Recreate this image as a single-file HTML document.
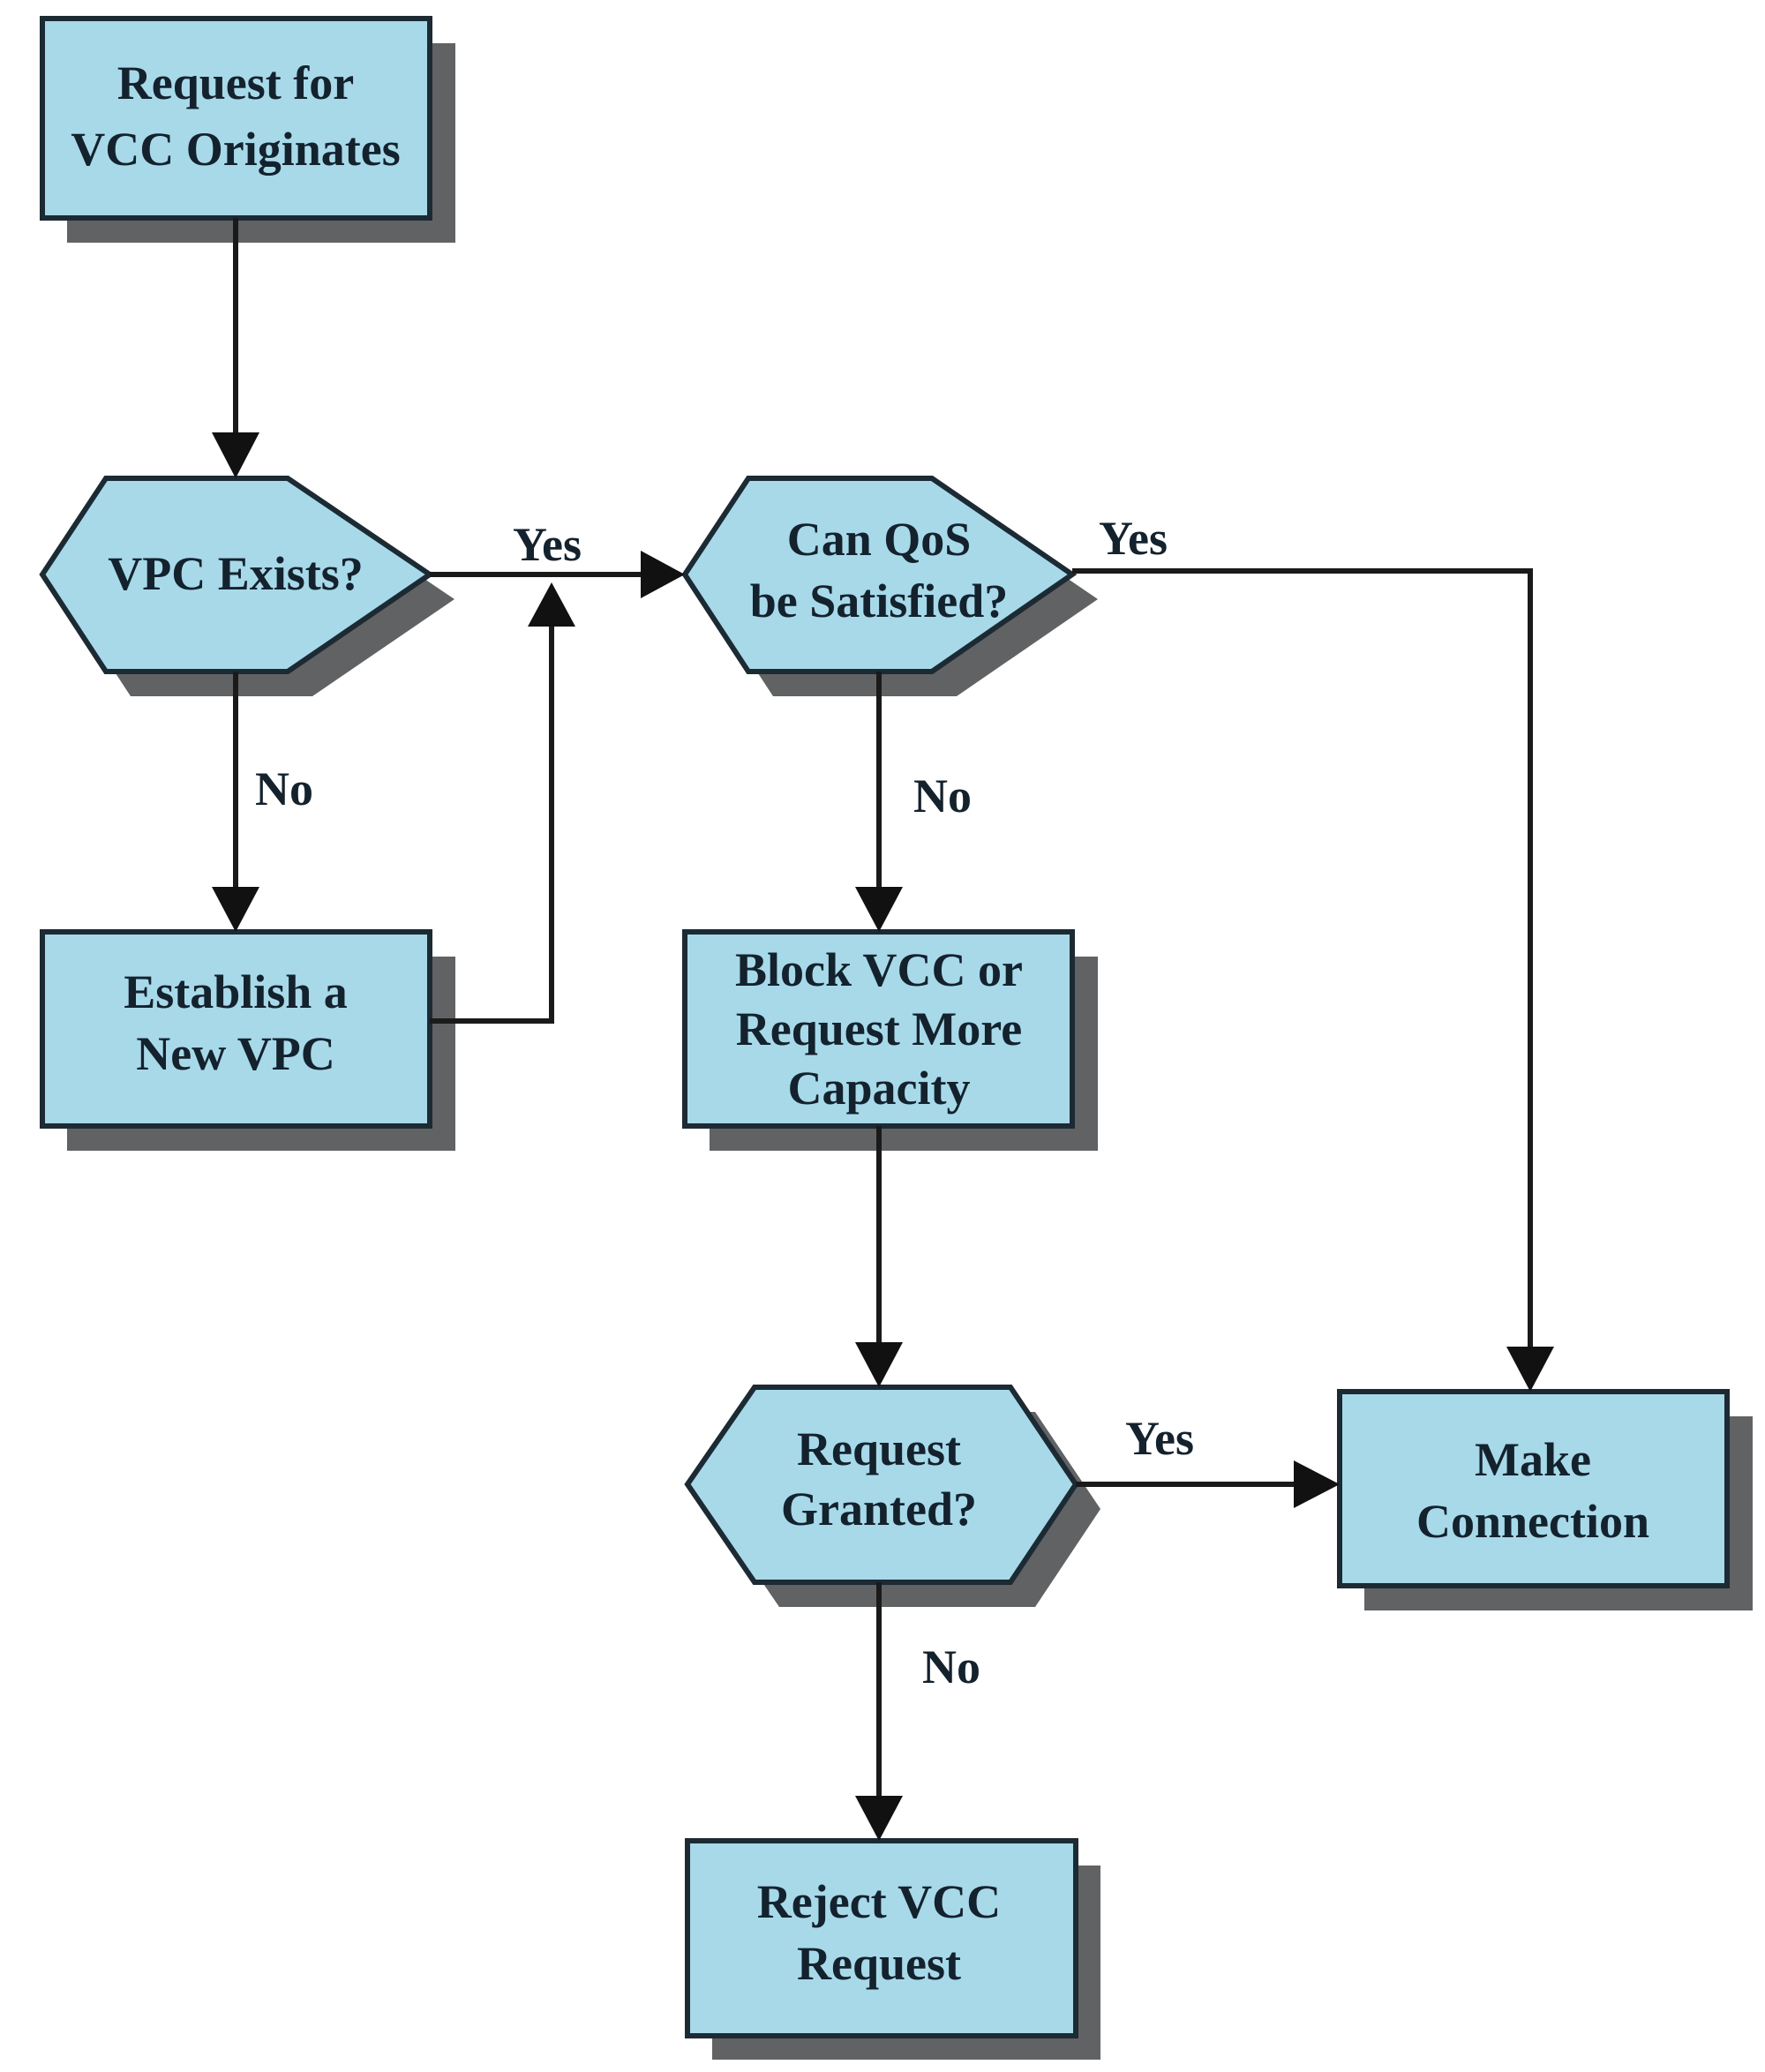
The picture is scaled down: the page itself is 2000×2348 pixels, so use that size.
<!DOCTYPE html>
<html><head><meta charset="utf-8"><style>
html,body{margin:0;padding:0;background:#fff;}
svg{display:block;}
text{font-family:"Liberation Serif",serif;font-weight:bold;fill:#14222e;text-anchor:middle;font-size:54px;}
</style></head><body>
<svg width="2000" height="2348" viewBox="0 0 2000 2348" xmlns="http://www.w3.org/2000/svg">
<defs>
<marker id="ah" viewBox="0 0 10 10" refX="10" refY="5" markerWidth="10" markerHeight="10" markerUnits="userSpaceOnUse" orient="auto"></marker>
</defs>
<g fill="#616264">
<rect x="76" y="49" width="440" height="226"/>
<polygon points="148,570 354,570 515,679 354,789 148,789 76,679"/>
<rect x="76" y="1084" width="440" height="220"/>
<polygon points="876,570 1084,570 1244,679 1084,789 876,789 804,679"/>
<rect x="804" y="1084" width="440" height="220"/>
<polygon points="883,1600 1173,1600 1247,1710 1173,1821 883,1821 807,1710"/>
<rect x="1546" y="1605" width="440" height="220"/>
<rect x="807" y="2114" width="440" height="220"/>
</g>
<g fill="#a7d9e9" stroke="#1c2a33" stroke-width="6" stroke-linejoin="miter">
<rect x="48" y="21" width="439" height="226"/>
<polygon points="120,542 326,542 487,651 326,761 120,761 48,651"/>
<rect x="48" y="1056" width="439" height="220"/>
<polygon points="848,542 1056,542 1215,651 1056,761 848,761 776,651"/>
<rect x="776" y="1056" width="439" height="220"/>
<polygon points="855,1572 1145,1572 1219,1682 1145,1793 855,1793 779,1682"/>
<rect x="1518" y="1577" width="439" height="220"/>
<rect x="779" y="2086" width="440" height="221"/>
</g>
<g stroke="#1a1a1a" stroke-width="6" fill="none">
<line x1="267" y1="247" x2="267" y2="495"/>
<line x1="267" y1="761" x2="267" y2="1010"/>
<line x1="487" y1="651" x2="730" y2="651"/>
<polyline points="487,1157 625,1157 625,705"/>
<polyline points="1215,647 1734,647 1734,1530"/>
<line x1="996" y1="761" x2="996" y2="1010"/>
<line x1="996" y1="1276" x2="996" y2="1526"/>
<line x1="1219" y1="1682" x2="1470" y2="1682"/>
<line x1="996" y1="1793" x2="996" y2="2040"/>
</g>
<g fill="#111">
<polygon points="240,490 294,490 267,542"/>
<polygon points="240,1005 294,1005 267,1056"/>
<polygon points="726,624 726,678 776,651"/>
<polygon points="598,710 652,710 625,660"/>
<polygon points="1707,1526 1761,1526 1734,1577"/>
<polygon points="969,1005 1023,1005 996,1056"/>
<polygon points="969,1521 1023,1521 996,1572"/>
<polygon points="1466,1655 1466,1709 1518,1682"/>
<polygon points="969,2035 1023,2035 996,2086"/>
</g>
<text x="267" y="112">Request for</text>
<text x="267" y="187">VCC Originates</text>
<text x="267" y="668">VPC Exists?</text>
<text x="267" y="1142">Establish a</text>
<text x="267" y="1212">New VPC</text>
<text x="996" y="629">Can QoS</text>
<text x="996" y="699">be Satisfied?</text>
<text x="996" y="1117">Block VCC or</text>
<text x="996" y="1184">Request More</text>
<text x="996" y="1251">Capacity</text>
<text x="996" y="1660">Request</text>
<text x="996" y="1728">Granted?</text>
<text x="1737" y="1672">Make</text>
<text x="1737" y="1742">Connection</text>
<text x="996" y="2173">Reject VCC</text>
<text x="996" y="2243">Request</text>
<text x="620" y="635">Yes</text>
<text x="1284" y="628">Yes</text>
<text x="322" y="912">No</text>
<text x="1068" y="920">No</text>
<text x="1314" y="1648">Yes</text>
<text x="1078" y="1907">No</text>
</svg>
</body></html>
